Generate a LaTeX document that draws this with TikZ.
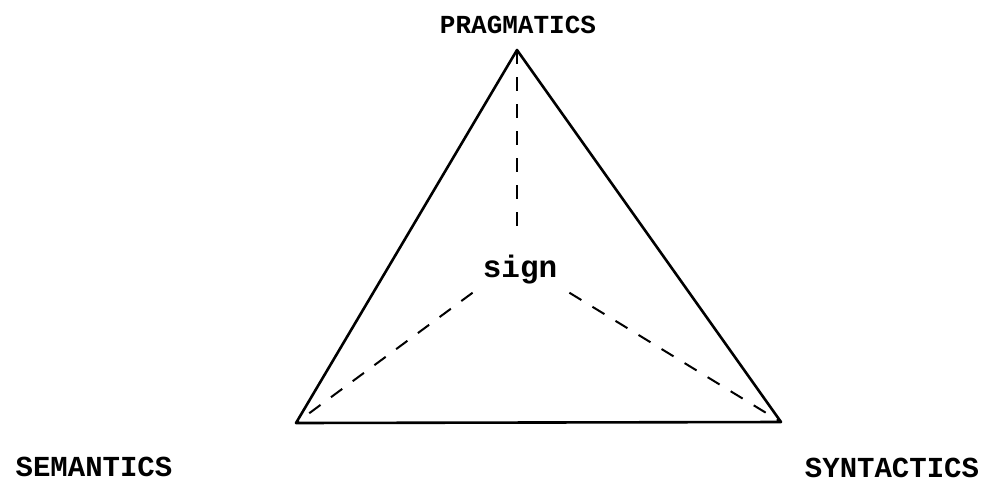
\documentclass[tikz,border=0pt]{standalone}
\usepackage{fontspec}
\setmonofont{Liberation Mono}
\begin{document}
\begin{tikzpicture}[x=1pt,y=-1pt,
  lbl/.style={font=\ttfamily\bfseries\fontsize{26}{30}\selectfont, inner sep=0pt},
  edge/.style={line width=2.6pt, line join=round},
  dsh/.style={line width=2pt, dash pattern=on 14pt off 13pt}]
\useasboundingbox (0,0) rectangle (987,490);
\coordinate (P) at (517,50);
\coordinate (L) at (296,423);
\coordinate (R) at (781,422);
\draw[edge] (P) -- (L) -- (R) -- cycle;
\node[lbl, font=\ttfamily\bfseries\fontsize{31}{34}\selectfont] (sign) at (520,270) {sign};
\node[lbl] (prag) at (518,25) {PRAGMATICS};
\node[lbl, font=\ttfamily\bfseries\fontsize{29}{32}\selectfont] (sem) at (94,467) {SEMANTICS};
\node[lbl, font=\ttfamily\bfseries\fontsize{29}{32}\selectfont] (syn) at (892,468) {SYNTACTICS};
\coordinate (st) at (517,232);
\draw[dsh] (P) -- (st);
\draw[dsh] (sign.south west) ++(-10,8) coordinate (sl) -- (L);
\draw[dsh] (sign.south east) ++(12,8) coordinate (sr) -- (R);
\end{tikzpicture}
\end{document}
